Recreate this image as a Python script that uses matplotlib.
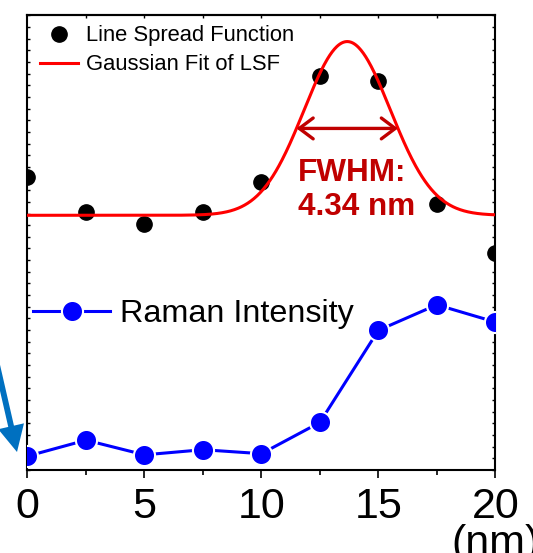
import numpy as np
import matplotlib
matplotlib.use("Agg")
import matplotlib.pyplot as plt
from matplotlib.ticker import MultipleLocator
from matplotlib.patches import FancyArrowPatch, ArrowStyle

plt.rcParams["font.family"] = ["Liberation Sans", "DejaVu Sans"]

# Scan position along the line profile (nm)
position = [0, 2.5, 5, 7.5, 10, 12.5, 15, 17.5, 20]

# Line spread function (normalised, baseline 0, fitted peak 1)
lsf = [0.223, 0.020, -0.050, 0.019, 0.190, 0.804, 0.773, 0.063, -0.215]

# Gaussian fit parameters of the LSF
fit_center = 13.67
fit_fwhm = 4.34
fit_amplitude = 1.0
fit_offset = 0.0

# Raman intensity (a.u.)
raman = [11.9, 25.6, 13.0, 17.4, 14.0, 40.8, 119.8, 141.7, 126.9]

tick_labels = ["0", "5", "10", "15", "20"]

fig = plt.figure(figsize=(5.33, 5.53), dpi=100)
ax = fig.add_axes([0.05159, 0.15009, 0.8777, 0.8222])
ax_lsf = ax.twinx()

# --- Raman intensity profile ---
raman_line, = ax.plot(position, raman, color="#0000FF", lw=2.2, marker="o",
                      ms=15.2, mfc="#0000FF", mec="white", mew=1.5,
                      label="Raman Intensity", zorder=3)
ax.set_xlim(0, 20)
ax.set_ylim(0, 390)

# --- LSF and its Gaussian fit ---
sigma = fit_fwhm / (2 * np.sqrt(2 * np.log(2)))
xf = np.linspace(0, 20, 600)
yf = fit_offset + fit_amplitude * np.exp(-(xf - fit_center) ** 2 / (2 * sigma ** 2))
dots, = ax_lsf.plot(position, lsf, ls="none", marker="o", ms=11,
                    color="black", label="Line Spread Function", zorder=2)
fit, = ax_lsf.plot(xf, yf, color="#FF0000", lw=2.2,
                   label="Gaussian Fit of LSF", zorder=3)
ax_lsf.set_ylim(-1.466, 1.151)
ax_lsf.set_xlim(0, 20)
ax_lsf.axis("off")

# FWHM marker at half maximum
half = fit_offset + fit_amplitude / 2
x_left = fit_center - fit_fwhm / 2
x_right = fit_center + fit_fwhm / 2
dark_red = "#C00000"
ax_lsf.add_patch(FancyArrowPatch(
    (x_left, half), (x_right, half),
    arrowstyle=ArrowStyle("<->", head_length=10.0, head_width=7.5),
    mutation_scale=1, color=dark_red, lw=2.4, shrinkA=0, shrinkB=0, zorder=4))
ax_lsf.text(x_left + 0.05, fit_offset + 0.2, "FWHM:", color=dark_red,
            fontsize=22.7, fontweight="bold", ha="left", va="baseline")
ax_lsf.text(x_left + 0.05, fit_offset, f"{fit_fwhm} nm", color=dark_red,
            fontsize=22.7, fontweight="bold", ha="left", va="baseline")

# --- axes styling ---
for s in ax.spines.values():
    s.set_linewidth(1.5)
ax.set_xticks([0, 5, 10, 15, 20], tick_labels)
ax.xaxis.set_minor_locator(MultipleLocator(2.5))
ax.tick_params(axis="x", which="major", direction="out", length=5.4,
               width=1.2, labelsize=31, pad=6.5)
ax.tick_params(axis="x", which="minor", direction="out", length=3.6, width=1.2)
ax.yaxis.set_major_locator(MultipleLocator(10))
ax.tick_params(axis="y", which="both", direction="in", length=2.2, width=1,
               left=True, right=True, labelleft=False, labelright=False)

top = ax.secondary_xaxis("top")
top.set_xticks(np.arange(2.5, 20, 2.5))
top.tick_params(direction="in", length=2.2, width=1, labeltop=False)
top.spines["top"].set_linewidth(1.5)

# --- legends ---
leg1 = ax_lsf.legend(handles=[dots, fit], loc="center left",
                     bbox_to_anchor=(0.0267, 0.9228), frameon=False,
                     fontsize=15.8, handlelength=1.73, handletextpad=0.37,
                     labelspacing=0.37, borderpad=0, borderaxespad=0)
leg2 = ax.legend(handles=[raman_line], loc="center left",
                 bbox_to_anchor=(0.0118, 0.3424), frameon=False,
                 fontsize=23.3, handlelength=2.38, handletextpad=0.31,
                 borderpad=0, borderaxespad=0)

# unit label below the last tick
fig.text(451.7 / 533, 1 - 524 / 553, "(nm)", fontsize=31, ha="left", va="top")

# pointer arrow at the left edge
ax.annotate("", xy=(17, 553 - 452), xycoords="figure pixels",
            xytext=(-5, 553 - 356), textcoords="figure pixels",
            arrowprops=dict(arrowstyle=ArrowStyle.Simple(head_length=19, head_width=19, tail_width=4.2),
                            mutation_scale=1, color="#0070C0", lw=0,
                            shrinkA=0, shrinkB=0),
            annotation_clip=False)

fig.savefig("out.png", dpi=100)
